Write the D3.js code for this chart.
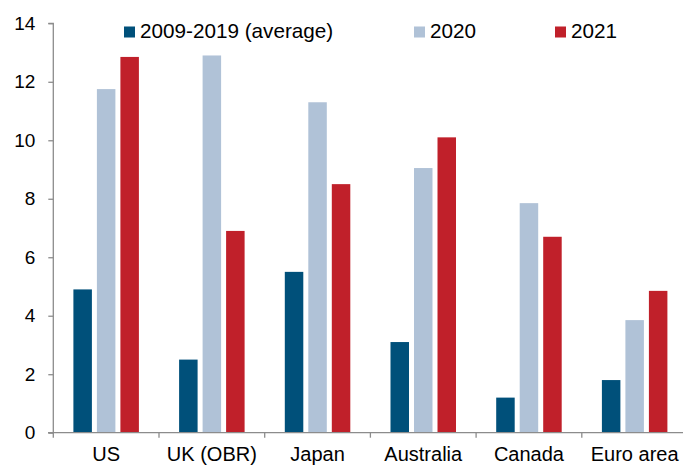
<!DOCTYPE html>
<html><head><meta charset="utf-8">
<script src="https://cdn.jsdelivr.net/npm/d3@7"></script>
<style>body{margin:0;background:#fff;}svg{display:block;font-family:"Liberation Sans",Arial,sans-serif;}</style>
</head><body>
<svg id="chart" width="683" height="466"></svg>
<script>
const categories = ["US","UK (OBR)","Japan","Australia","Canada","Euro area"];
const seriesNames = ["2009-2019 (average)","2020","2021"];
const avg2009_2019 = [4.9, 2.5, 5.5, 3.1, 1.2, 1.8];
const v2020 = [11.75, 12.9, 11.3, 9.05, 7.85, 3.85];
const v2021 = [12.85, 6.9, 8.5, 10.1, 6.7, 4.85];
const yTicks = [0,2,4,6,8,10,12,14];
const colors = ["#00507A","#B0C2D7","#C0202A"];

const series = [avg2009_2019, v2020, v2021];
const svg = d3.select("#chart");
const x0 = d3.scaleBand().domain(categories).range([53.3, 687.5]).paddingInner(0).paddingOuter(0);
const groupW = 65.5;
const x1 = d3.scaleBand().domain(d3.range(3)).range([0, groupW]).paddingInner(0.213).paddingOuter(0);
const y = d3.scaleLinear().domain([0,14]).range([432.7, 23.3]);

// bars
categories.forEach((c,i)=>{
  const g = svg.append("g").attr("transform",`translate(${x0(c)+(x0.bandwidth()-groupW)/2},0)`);
  series.forEach((s,j)=>{
    g.append("rect")
      .attr("x", x1(j)).attr("width", x1.bandwidth())
      .attr("y", y(s[i])).attr("height", y(0)-y(s[i]))
      .attr("fill", colors[j]);
  });
});

// y axis
const yAxis = d3.axisLeft(y).tickValues(yTicks).tickSize(5).tickPadding(13).tickFormat(d3.format("d"));
const gy = svg.append("g").attr("transform","translate(53.3,0)").call(yAxis);
gy.select(".domain").attr("stroke","#8c8c8c").attr("stroke-width",1.3).attr("d",`M-5,${y(14)}H0V${y(0)}`);
gy.selectAll(".tick line").attr("stroke","#8c8c8c").attr("stroke-width",1.3);
gy.selectAll("text").attr("font-size",19).attr("fill","#000").attr("font-family","Liberation Sans, Arial, sans-serif");

// x axis
const xAxis = d3.axisBottom(x0).tickSize(0).tickPadding(14);
const gx = svg.append("g").attr("transform",`translate(0,${y(0)})`).call(xAxis);
gx.select(".domain").attr("stroke","#8c8c8c").attr("stroke-width",1.3).attr("d","M48,0H690");
gx.selectAll(".tick line").remove();
gx.selectAll("text").attr("font-size",20).attr("fill","#000").attr("font-family","Liberation Sans, Arial, sans-serif");
// category boundary ticks
const bounds = categories.map(c=>x0(c));
svg.append("g").selectAll("line").data(bounds).join("line")
  .attr("x1",d=>d).attr("x2",d=>d).attr("y1",y(0)).attr("y2",y(0)+5)
  .attr("stroke","#8c8c8c").attr("stroke-width",1.3);

// legend
const legendX = [124, 414, 555];
const lg = svg.append("g");
seriesNames.forEach((n,j)=>{
  lg.append("rect").attr("x",legendX[j]).attr("y",26.5).attr("width",11).attr("height",11).attr("fill",colors[j]);
  lg.append("text").attr("x",legendX[j]+16).attr("y",38.3).attr("font-size",20.7).attr("fill","#000").text(n);
});
</script>
</body></html>
